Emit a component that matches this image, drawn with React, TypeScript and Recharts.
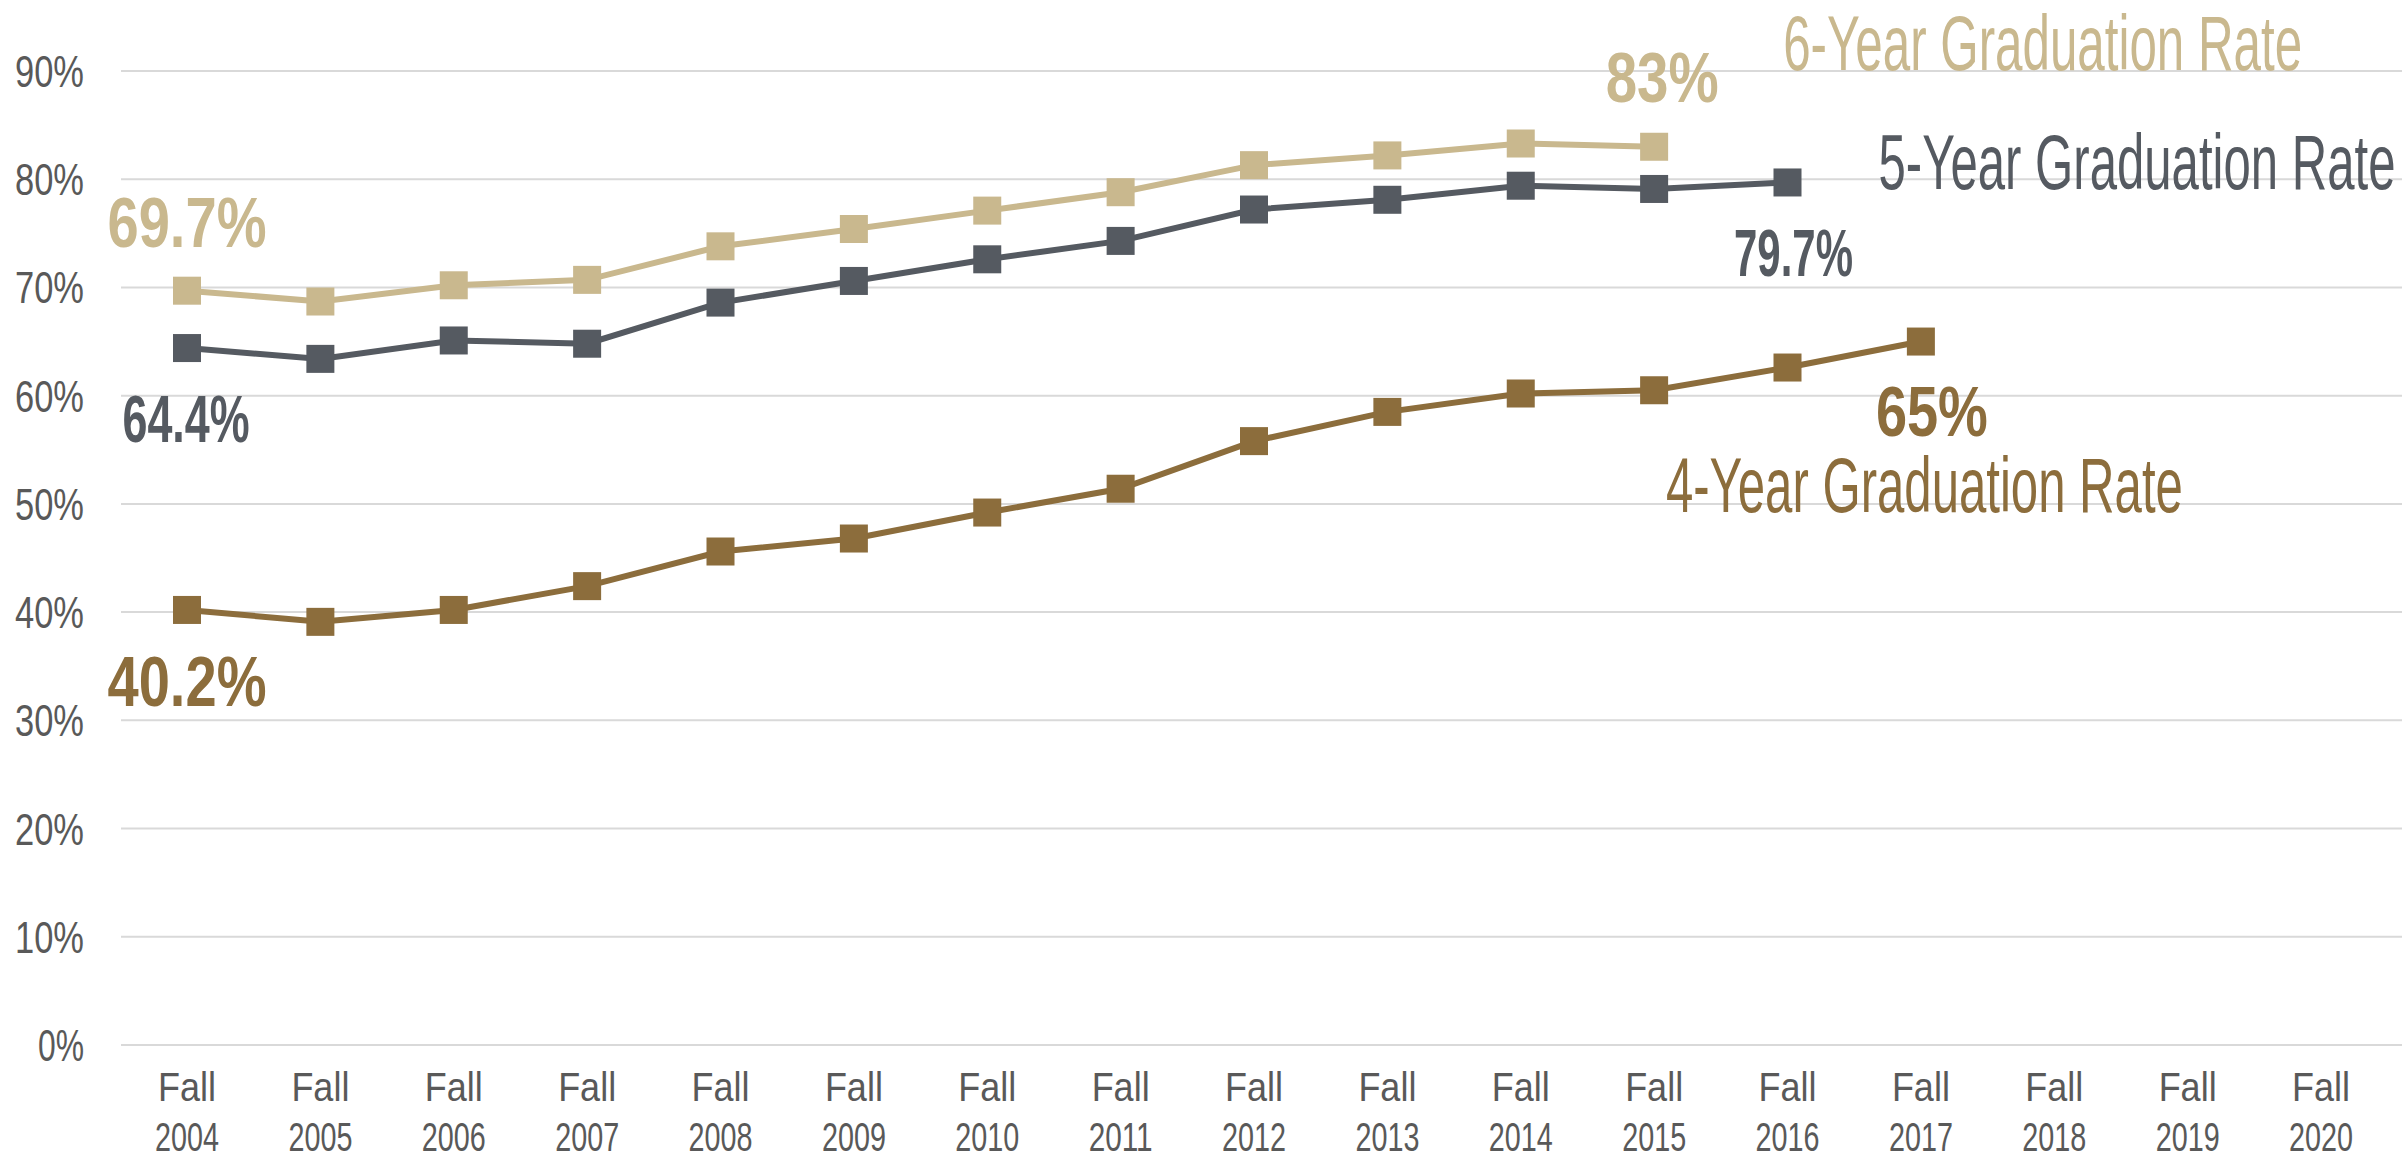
import React from "react";
import { CartesianGrid, LabelList, Line, LineChart, XAxis, YAxis } from "recharts";

const years = ["2004", "2005", "2006", "2007", "2008", "2009", "2010", "2011", "2012", "2013", "2014", "2015", "2016", "2017", "2018", "2019", "2020"];
const sixYearRate = [69.7, 68.7, 70.2, 70.7, 73.8, 75.4, 77.1, 78.8, 81.3, 82.2, 83.3, 83.0];
const fiveYearRate = [64.4, 63.4, 65.1, 64.8, 68.6, 70.6, 72.6, 74.3, 77.2, 78.1, 79.4, 79.1, 79.7];
const fourYearRate = [40.2, 39.1, 40.2, 42.4, 45.6, 46.8, 49.2, 51.4, 55.8, 58.5, 60.2, 60.5, 62.6, 65.0];
const yTicks = [0, 10, 20, 30, 40, 50, 60, 70, 80, 90];
const firstLabels = ["69.7%", "64.4%", "40.2%"];
const lastLabels = ["83%", "79.7%", "65%"];
const seriesNames = ["6-Year Graduation Rate", "5-Year Graduation Rate", "4-Year Graduation Rate"];

const data = years.map((year, i) => ({
  term: "Fall " + year,
  six: sixYearRate[i] ?? null,
  five: fiveYearRate[i] ?? null,
  four: fourYearRate[i] ?? null,
}));

// no narrow face installed, so text gets squeezed with textLength
const FONT = "'Liberation Sans', Arial, sans-serif";
const TAN = "#C9B88E";
const SLATE = "#555A61";
const BROWN = "#8C6D3C";
const AXIS_TEXT = "#595959";

type LabelCfg = {
  color: string;
  first: { text: string; dx: number; dy: number; size: number; len: number };
  last: { index: number; text: string; dx: number; dy: number; size: number; len: number };
  name: { text: string; dx: number; dy: number; len: number };
};

const labelCfgs: LabelCfg[] = [
  {
    color: TAN,
    first: { text: firstLabels[0], dx: 0, dy: -44, size: 70, len: 159 },
    last: { index: sixYearRate.length - 1, text: lastLabels[0], dx: 8, dy: -45, size: 70, len: 113 },
    name: { text: seriesNames[0], dx: 129, dy: -77, len: 519 },
  },
  {
    color: SLATE,
    first: { text: firstLabels[1], dx: -1, dy: 94, size: 67, len: 127 },
    last: { index: fiveYearRate.length - 1, text: lastLabels[1], dx: 6, dy: 94, size: 67, len: 119 },
    name: { text: seriesNames[1], dx: 91, dy: 7, len: 517 },
  },
  {
    color: BROWN,
    first: { text: firstLabels[2], dx: 0, dy: 96, size: 70, len: 159 },
    last: { index: fourYearRate.length - 1, text: lastLabels[2], dx: 11, dy: 94, size: 70, len: 112 },
    name: { text: seriesNames[2], dx: -255, dy: 170, len: 517 },
  },
];

function makeLabel(cfg: LabelCfg) {
  return (props: any) => {
    const { x, y, index } = props;
    if (x == null || y == null) return null;
    if (index === 0) {
      return (
        <text x={x + cfg.first.dx} y={y + cfg.first.dy} textAnchor="middle" fill={cfg.color} fontFamily={FONT} fontWeight={700} fontSize={cfg.first.size} textLength={cfg.first.len} lengthAdjust="spacingAndGlyphs">
          {cfg.first.text}
        </text>
      );
    }
    if (index === cfg.last.index) {
      return (
        <g>
          <text x={x + cfg.last.dx} y={y + cfg.last.dy} textAnchor="middle" fill={cfg.color} fontFamily={FONT} fontWeight={700} fontSize={cfg.last.size} textLength={cfg.last.len} lengthAdjust="spacingAndGlyphs">
            {cfg.last.text}
          </text>
          <text x={x + cfg.name.dx} y={y + cfg.name.dy} textAnchor="start" fill={cfg.color} fontFamily={FONT} fontSize={77} textLength={cfg.name.len} lengthAdjust="spacingAndGlyphs">
            {cfg.name.text}
          </text>
        </g>
      );
    }
    return null;
  };
}

function squareDot(color: string) {
  return (props: any) => {
    const { cx, cy, index } = props;
    if (cx == null || cy == null || props.value == null) return <g key={index} />;
    return <rect key={index} x={cx - 14} y={cy - 14} width={28} height={28} fill={color} />;
  };
}

function YTick({ x, y, payload }: any) {
  const label = payload.value + "%";
  return (
    <text x={x - 37} y={y} dy={16} textAnchor="end" fill={AXIS_TEXT} fontFamily={FONT} fontSize={44} textLength={label.length === 2 ? 46 : 69} lengthAdjust="spacingAndGlyphs">
      {label}
    </text>
  );
}

function XTick({ x, y, payload }: any) {
  const [word, year] = String(payload.value).split(" ");
  return (
    <g>
      <text x={x} y={y + 56} textAnchor="middle" fill={AXIS_TEXT} fontFamily={FONT} fontSize={40} textLength={58} lengthAdjust="spacingAndGlyphs">
        {word}
      </text>
      <text x={x} y={y + 106} textAnchor="middle" fill={AXIS_TEXT} fontFamily={FONT} fontSize={40} textLength={64} lengthAdjust="spacingAndGlyphs">
        {year}
      </text>
    </g>
  );
}

export default function App() {
  return (
    <div style={{ position: "absolute", left: 0, top: 0, width: 2407, height: 1158, background: "#fff" }}>
      <LineChart width={2407} height={1158} data={data} margin={{ top: 71, right: 5, left: 0, bottom: 0 }}>
        <CartesianGrid stroke="#D9D9D9" strokeWidth={2} vertical={false} />
        <XAxis
          dataKey="term"
          axisLine={false}
          tickLine={false}
          tickSize={0}
          tickMargin={0}
          interval={0}
          tick={<XTick />}
          padding={{ left: 66, right: 81 }}
          height={113}
        />
        <YAxis domain={[0, 90]} ticks={yTicks} axisLine={false} tickLine={false} tickSize={0} tickMargin={0} width={121} tick={<YTick />} />
        <Line dataKey="six" stroke={TAN} strokeWidth={6} dot={squareDot(TAN)} activeDot={false} isAnimationActive={false}>
          <LabelList dataKey="six" content={makeLabel(labelCfgs[0])} />
        </Line>
        <Line dataKey="five" stroke={SLATE} strokeWidth={6} dot={squareDot(SLATE)} activeDot={false} isAnimationActive={false}>
          <LabelList dataKey="five" content={makeLabel(labelCfgs[1])} />
        </Line>
        <Line dataKey="four" stroke={BROWN} strokeWidth={6} dot={squareDot(BROWN)} activeDot={false} isAnimationActive={false}>
          <LabelList dataKey="four" content={makeLabel(labelCfgs[2])} />
        </Line>
      </LineChart>
    </div>
  );
}
